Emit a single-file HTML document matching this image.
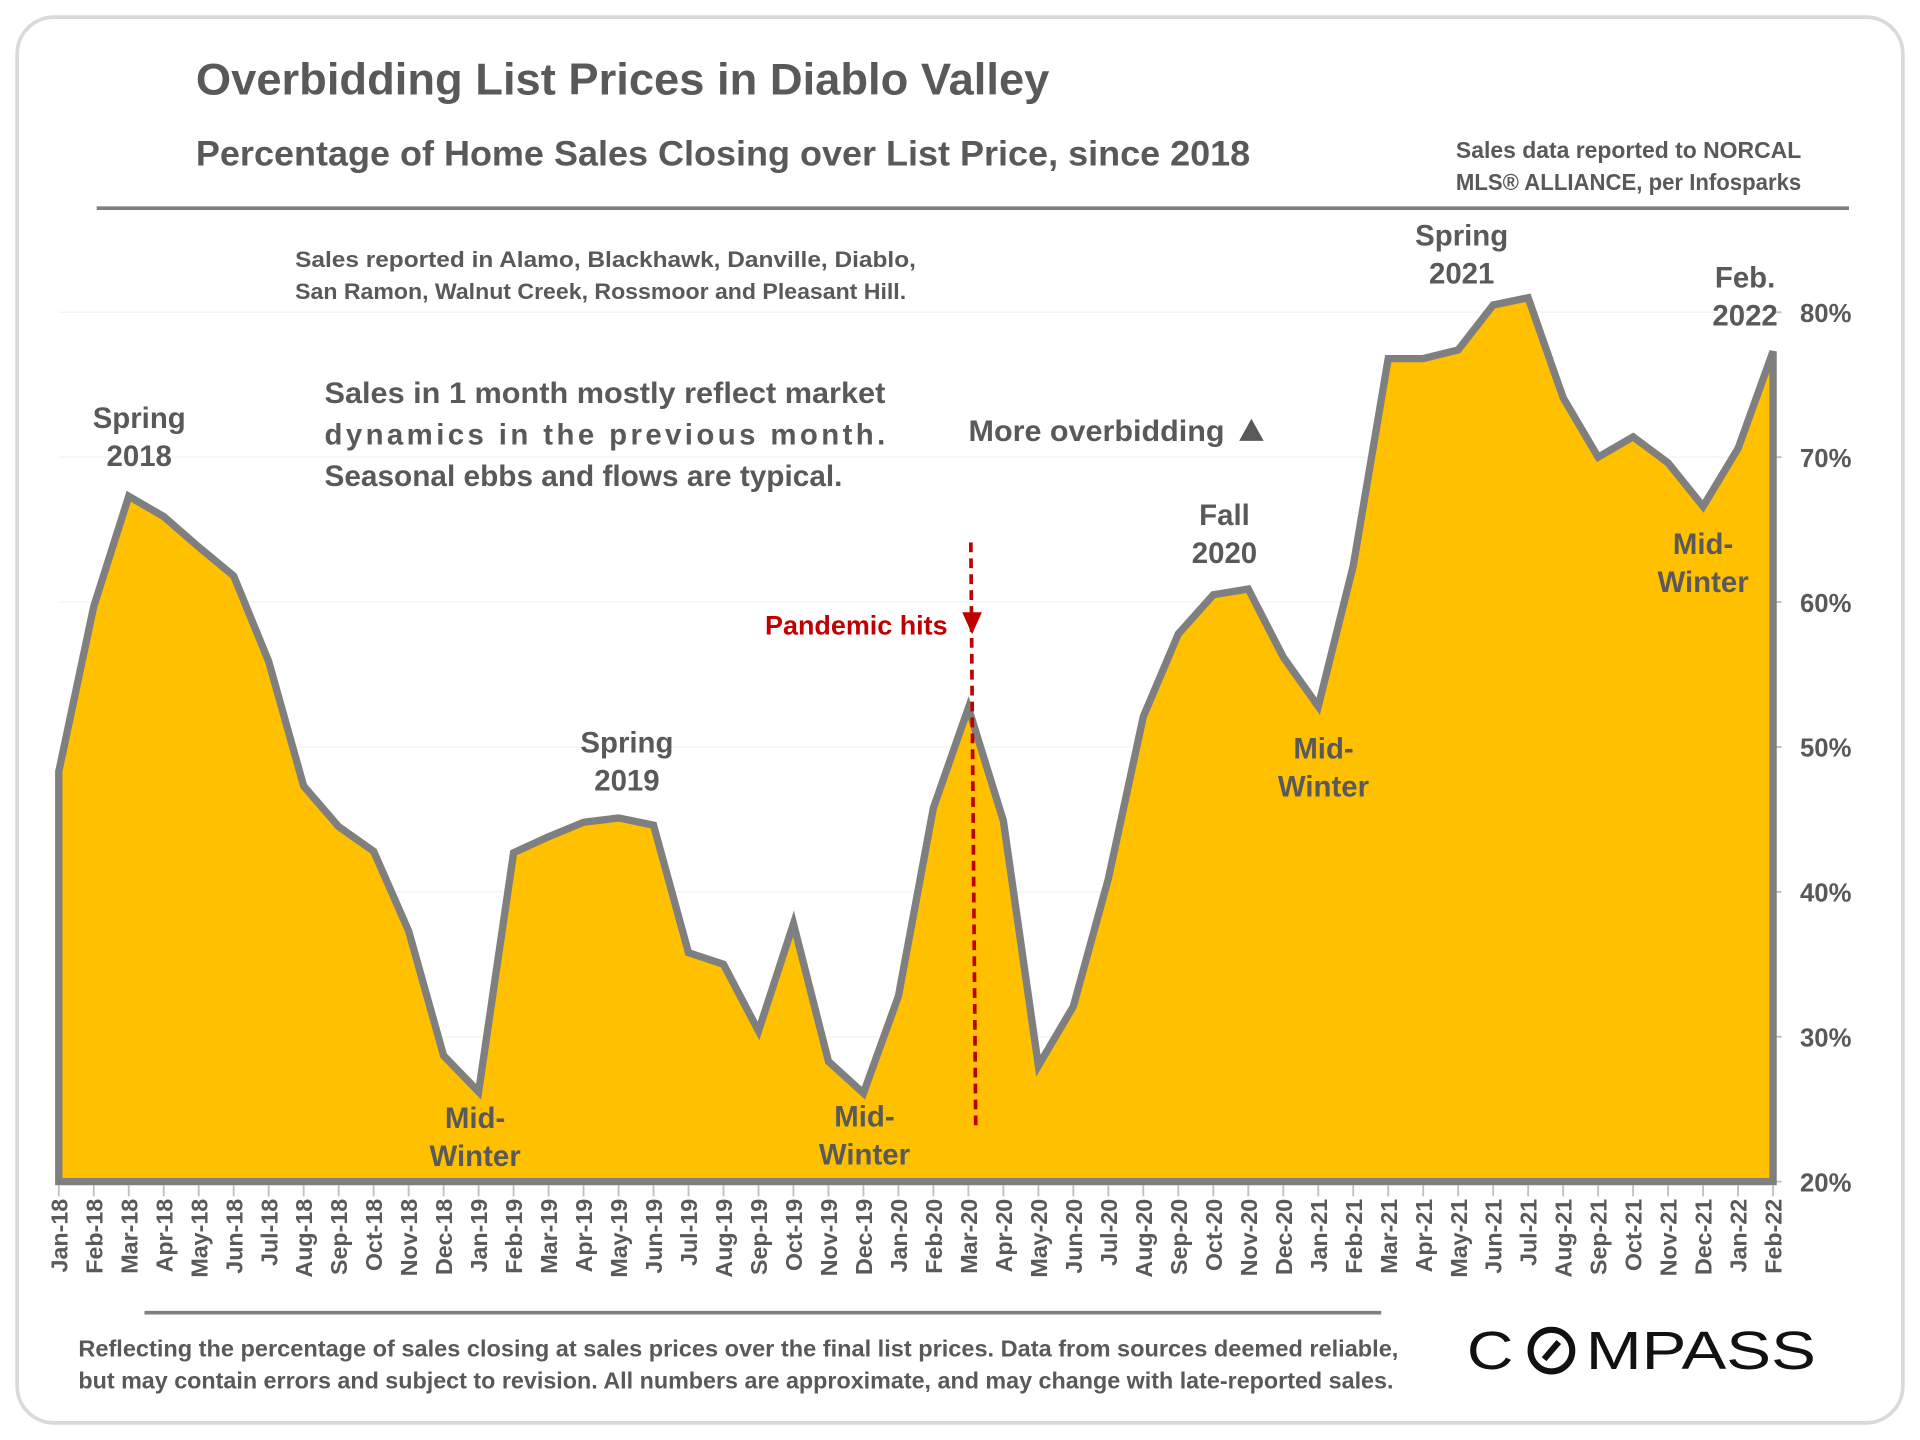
<!DOCTYPE html>
<html><head><meta charset="utf-8"><style>
html,body{margin:0;padding:0;background:#fff;}
svg{display:block;}
text{font-family:"Liberation Sans",sans-serif;font-weight:bold;fill:#595959;}
</style></head>
<body>
<svg id="chart" width="1920" height="1440" viewBox="0 0 1568 1176" xmlns="http://www.w3.org/2000/svg">
<rect x="14" y="14" width="1540" height="1148" rx="30" fill="#fff" stroke="#d9d9d9" stroke-width="3"/>
<text x="160" y="77" font-size="36" textLength="697" lengthAdjust="spacingAndGlyphs">Overbidding List Prices in Diablo Valley</text>
<text x="160" y="135" font-size="29" textLength="861" lengthAdjust="spacingAndGlyphs">Percentage of Home Sales Closing over List Price, since 2018</text>
<text x="1189" y="129" font-size="19" textLength="282" lengthAdjust="spacingAndGlyphs">Sales data reported to NORCAL</text>
<text x="1189" y="155" font-size="19" textLength="282" lengthAdjust="spacingAndGlyphs">MLS® ALLIANCE, per Infosparks</text>
<line x1="79" y1="170" x2="1510" y2="170" stroke="#7f7f7f" stroke-width="3"/>
<g id="plot"></g>
<text x="241" y="218" font-size="18" textLength="507" lengthAdjust="spacingAndGlyphs">Sales reported in Alamo, Blackhawk, Danville, Diablo,</text>
<text x="241" y="244" font-size="18" textLength="499" lengthAdjust="spacingAndGlyphs">San Ramon, Walnut Creek, Rossmoor and Pleasant Hill.</text>
<text x="265" y="329" font-size="24" textLength="458" lengthAdjust="spacingAndGlyphs">Sales in 1 month mostly reflect market</text>
<text x="265" y="363" font-size="24" textLength="458" lengthAdjust="spacing">dynamics in the previous month.</text>
<text x="265" y="397" font-size="24" textLength="423" lengthAdjust="spacingAndGlyphs">Seasonal ebbs and flows are typical.</text>
<text x="791" y="360" font-size="24" textLength="209" lengthAdjust="spacingAndGlyphs">More overbidding</text>
<polygon points="1012,360 1032,360 1022,342" fill="#595959"/>
<line x1="1128" y1="1072" x2="118" y2="1072" stroke="#7f7f7f" stroke-width="3"/>
<text x="64" y="1108" font-size="19" textLength="1078" lengthAdjust="spacingAndGlyphs">Reflecting the percentage of sales closing at sales prices over the final list prices. Data from sources deemed reliable,</text>
<text x="64" y="1134" font-size="19" textLength="1074" lengthAdjust="spacingAndGlyphs">but may contain errors and subject to revision. All numbers are approximate, and may change with late-reported sales.</text>
<g>
<text x="1198" y="1118" font-size="44" style="fill:#111;font-weight:normal" textLength="38" lengthAdjust="spacingAndGlyphs">C</text>
<circle cx="1267" cy="1103" r="17" fill="none" stroke="#111" stroke-width="5"/>
<line x1="1261" y1="1110" x2="1273" y2="1096" stroke="#111" stroke-width="5"/>
<text x="1295" y="1118" font-size="44" style="fill:#111;font-weight:normal" textLength="188" lengthAdjust="spacingAndGlyphs">MPASS</text>
</g>
</svg>
<script>
const months = ["Jan-18","Feb-18","Mar-18","Apr-18","May-18","Jun-18","Jul-18","Aug-18","Sep-18","Oct-18","Nov-18","Dec-18","Jan-19","Feb-19","Mar-19","Apr-19","May-19","Jun-19","Jul-19","Aug-19","Sep-19","Oct-19","Nov-19","Dec-19","Jan-20","Feb-20","Mar-20","Apr-20","May-20","Jun-20","Jul-20","Aug-20","Sep-20","Oct-20","Nov-20","Dec-20","Jan-21","Feb-21","Mar-21","Apr-21","May-21","Jun-21","Jul-21","Aug-21","Sep-21","Oct-21","Nov-21","Dec-21","Jan-22","Feb-22"];
const values = [48.3,59.7,67.3,65.9,63.8,61.8,55.9,47.3,44.5,42.8,37.3,28.7,26.2,42.7,43.8,44.8,45.1,44.6,35.8,35.0,30.4,37.8,28.3,26.1,32.8,45.8,52.7,44.9,28.0,32.1,40.9,52.1,57.8,60.5,60.9,56.2,52.8,62.5,76.8,76.8,77.4,80.5,81.0,74.1,70.0,71.4,69.6,66.6,70.6,77.3];
const yTicks = [20,30,40,50,60,70,80];
const annotations = [
 {i:2.3,v:72.0,lines:["Spring","2018"]},
 {i:11.9,v:23.7,lines:["Mid-","Winter"]},
 {i:16.24,v:49.6,lines:["Spring","2019"]},
 {i:23.03,v:23.8,lines:["Mid-","Winter"]},
 {i:33.32,v:65.3,lines:["Fall","2020"]},
 {i:36.15,v:49.2,lines:["Mid-","Winter"]},
 {i:40.1,v:84.6,lines:["Spring","2021"]},
 {i:47.0,v:63.3,lines:["Mid-","Winter"]},
 {i:48.2,v:81.7,lines:["Feb.","2022"]}
];
const NS="http://www.w3.org/2000/svg";
const X0=48,X1=1448,Y20=965,Y80=255;
const xs=i=>X0+(X1-X0)*i/(months.length-1);
const ys=v=>Y20-(v-20)*(Y20-Y80)/60;
const g=document.getElementById('plot');
function mk(tag,attrs){const e=document.createElementNS(NS,tag);for(const k in attrs)e.setAttribute(k,attrs[k]);return e;}
yTicks.forEach(t=>{
 const l=mk('line',{x1:X0,x2:X1,y1:ys(t),y2:ys(t),stroke:'#f2f2f2','stroke-width':1});
 
 
 g.appendChild(l);
 const tk=mk('line',{x1:X1,x2:X1+7,y1:ys(t),y2:ys(t),stroke:'#bfbfbf','stroke-width':1.5});
 
 
 g.appendChild(tk);
 const tx=mk('text',{x:1470,y:ys(t)+8,'font-size':21});
 tx.textContent=t+'%';
 
 
 g.appendChild(tx);
});
let d='M'+xs(0)+','+ys(20);
values.forEach((v,i)=>{d+=' L'+xs(i)+','+ys(v);});
d+=' L'+xs(values.length-1)+','+ys(20)+' Z';
const area=mk('path',{d:d,fill:'#FFC000',stroke:'#7f7f7f','stroke-width':6,'stroke-linejoin':'miter'});


g.appendChild(area);
months.forEach((m,i)=>{
 const x=xs(i);
 const tk=mk('line',{x1:x,x2:x,y1:Y20+3,y2:Y20+12,stroke:'#bfbfbf','stroke-width':1.5});
 
 
 g.appendChild(tk);
 const tx=mk('text',{x:0,y:0,'font-size':19,'text-anchor':'end',transform:'translate('+(x+7)+','+(Y20+14)+') rotate(-90)'});
 tx.textContent=m;
 
 
 g.appendChild(tx);
});
const pi=months.indexOf('Mar-20');
const pl=mk('line',{x1:xs(pi)+2,x2:xs(pi)+6,y1:443,y2:922,stroke:'#c00000','stroke-width':3,'stroke-dasharray':'8,5'});


g.appendChild(pl);
const pt=mk('polygon',{points:(xs(pi)-5)+',500 '+(xs(pi)+11)+',500 '+(xs(pi)+3)+',518',fill:'#c00000'});


g.appendChild(pt);
const ptx=mk('text',{x:xs(pi)-17,y:518,'font-size':22,'text-anchor':'end',style:'fill:#c00000'});
ptx.textContent='Pandemic hits';


g.appendChild(ptx);
annotations.forEach(a=>{
 a.lines.forEach((s,k)=>{
  const t=mk('text',{x:xs(a.i),y:ys(a.v)+k*31,'font-size':24,'text-anchor':'middle'});
  t.textContent=s;
  
  
  g.appendChild(t);
 });
});
</script>
</body></html>
